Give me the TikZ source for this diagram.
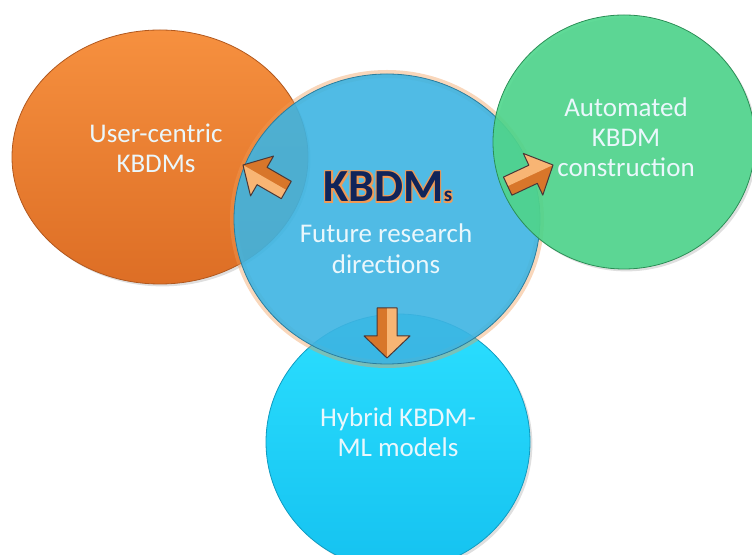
\documentclass[tikz,border=0pt]{standalone}
\usepackage{fontspec}
\setmainfont{Carlito}
\usetikzlibrary{shapes.geometric,shadows}
\definecolor{orangeA}{HTML}{F6903F}
\definecolor{orangeB}{HTML}{DD6E25}
\definecolor{skyblue}{HTML}{3DB4E2}
\definecolor{greenA}{HTML}{52DC92}
\definecolor{greenB}{HTML}{36B26B}
\definecolor{cyanA}{HTML}{2BDFFF}
\definecolor{cyanB}{HTML}{15C2F0}
\definecolor{navy}{HTML}{10245A}
\definecolor{glow}{HTML}{F09A55}
\definecolor{arrlight}{HTML}{F8B574}
\definecolor{arrdark}{HTML}{D8762A}
\definecolor{arredge}{HTML}{4A3838}
\definecolor{paletext}{HTML}{EAF7FC}
\tikzset{bub/.style={ellipse, inner sep=0pt, line width=.8pt}, lbl/.style={align=center, font=\fontsize{27}{30}\selectfont, text=paletext}, ttl/.style={font=\fontsize{46}{46}\selectfont\bfseries, inner sep=0pt}, barrow/.pic={\fill[arrdark] (-50,-10)--(-22,-10)--(-22,-23)--(0,0)--(-22,23)--(-22,10)--(-50,10)--cycle; \fill[arrlight] (-50,0)--(-50,10)--(-22,10)--(-22,23)--(0,0)--cycle; \draw[arredge, line width=1pt, line join=round] (-50,-10)--(-22,-10)--(-22,-23)--(0,0)--(-22,23)--(-22,10)--(-50,10)--cycle;}}

\begin{document}
\begin{tikzpicture}[x=1pt,y=1pt]
\useasboundingbox (0,0) rectangle (752,554);
\node[bub, minimum width=296, minimum height=254, top color=orangeA, bottom color=orangeB, draw=orangeB!80!black, drop shadow={opacity=.25}] (user) at (160,397) {};
\node[bub, minimum width=264, minimum height=256, top color=cyanA, bottom color=cyanB, draw=cyanB!80!black, drop shadow={opacity=.25}] (hybrid) at (398,112) {};
\node[bub, minimum width=306, minimum height=290, fill=skyblue, fill opacity=.9, draw=skyblue!70!black, preaction={draw=glow, line width=8pt, draw opacity=.4}] (core) at (387,335) {};
\node[bub, minimum width=262, minimum height=254, fill=greenA!85!greenB, fill opacity=.9, draw=greenB!80!black, drop shadow={opacity=.25}] (auto) at (624,412) {};
% block arrows out of the centre
\pic[rotate=150] at (243,389) {barrow};
\pic[rotate=25] at (553,389) {barrow};
\pic[rotate=-90] at (387,196) {barrow};
% labels
\node[lbl] (usertxt) at (156,406) {User-centric\\KBDMs};
\node[lbl] (autotxt) at (626,417) {Automated\\KBDM\\construction};
\node[lbl] (hybridtxt) at (398,122) {Hybrid KBDM-\\ML models};
\node[lbl, font=\fontsize{27}{31}\selectfont] (futuretxt) at (386,305) {Future research\\directions};
\foreach \a in {45,135,225,315} \node[ttl, text=glow, shift={(\a:1.8)}] (halo\a) at (388,367) {KBDM{\fontsize{21}{21}\selectfont s}};
\node[ttl, text=navy] (title) at (388,367) {KBDM{\fontsize{21}{21}\selectfont s}};
\end{tikzpicture}
\end{document}
